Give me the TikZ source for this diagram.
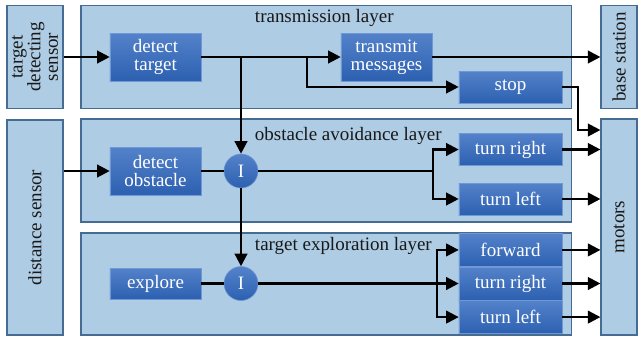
\documentclass[tikz,border=0pt]{standalone}
\usepackage{fontspec}
\setmainfont{Liberation Serif}
\usepackage{tikz}
\usetikzlibrary{arrows.meta,calc,positioning}
\definecolor{lyfill}{RGB}{174,204,227}
\definecolor{lydraw}{RGB}{70,108,148}
\definecolor{bxtop}{RGB}{84,130,202}
\definecolor{bxbot}{RGB}{44,96,176}
\definecolor{bxdraw}{RGB}{112,152,212}
\definecolor{lytext}{RGB}{25,25,25}

\begin{document}
\begin{tikzpicture}[
  x=0.025cm, y=-0.025cm,
  every node/.style={font=\fontsize{13.5}{12.5}\selectfont, text=lytext},
  layer/.style={draw=lydraw, fill=lyfill, line width=0.8pt, inner sep=0pt,
    minimum width=12.25cm, minimum height=2.575cm},
  side/.style={layer, rotate=90, align=center, minimum height=1.4cm},
  outbox/.style={layer, rotate=90, minimum height=0.9cm},
  behave/.style={draw=bxdraw, top color=bxtop, bottom color=bxbot, text=white,
    inner sep=0pt, align=center, minimum width=2.575cm, minimum height=0.8cm},
  sense/.style={behave, minimum width=2.275cm, minimum height=1.2cm},
  inh/.style={circle, draw=bxdraw, top color=bxtop, bottom color=bxbot,
    text=white, inner sep=0pt, minimum size=0.85cm},
  arr/.style={-{Triangle[length=9pt,width=9pt]}, line width=1.6pt},
  wire/.style={line width=1.6pt}
]
  \useasboundingbox (0,0) rectangle (642,338);

  \node[side, minimum width=2.575cm] (tsensor) at (35,57) {target\\detecting\\sensor};
  \node[side, minimum width=5.375cm] (dsensor) at (35,227.5) {distance sensor};
  \node[layer] (translayer) at (326,57) {};
  \node[layer] (obslayer) at (326,170.5) {};
  \node[layer, minimum height=2.55cm] (explayer) at (326,284) {};
  \node[outbox, minimum width=2.575cm] (base) at (619,57) {base station};
  \node[outbox, minimum width=5.4cm] (motors) at (619,227) {motors};

  \node[anchor=west] (translab) at (250,18) {transmission layer};
  \node[anchor=west] (obslab) at (250,136) {obstacle avoidance layer};
  \node[anchor=west] (explab) at (250,246) {target exploration layer};

  \node[sense] (dtarget) at (155.5,57) {detect\\target};
  \node[sense] (transmit) at (386.5,57) {transmit\\messages};
  \node[behave] (stop) at (510.5,87) {stop};

  \node[sense] (dobst) at (155.5,171) {detect\\obstacle};
  \node[inh] (inh1) at (241,171) {I};
  \node[behave] (oright) at (510.5,149.5) {turn right};
  \node[behave] (oleft) at (510.5,199) {turn left};

  \node[sense, minimum height=0.775cm] (explore) at (155.5,283.5) {explore};
  \node[inh] (inh2) at (241,283.5) {I};
  \node[behave, minimum height=0.825cm] (eright) at (510.5,283.5) {turn right};
  \node[behave, minimum height=0.825cm, above=0pt of eright] (forward) {forward};
  \node[behave, minimum height=0.825cm, below=0pt of eright] (eleft) {turn left};

  \coordinate (j1) at (241,57);
  \coordinate (j2) at (307,57);
  \coordinate (b1) at (433,171);
  \coordinate (b2) at (437,283.5);
  \coordinate (sbend) at (578,130);

  \draw[arr] (tsensor.south |- dtarget) -- (dtarget);
  \draw[arr] (dtarget) -- (transmit);
  \draw[arr] (transmit) -- (base.north |- transmit);
  \draw[arr] (j2) |- (stop);
  \draw[arr] (stop) -| (sbend) -- (sbend -| motors.north);
  \draw[arr] (j1) -- (inh1);
  \draw[arr] (inh1) -- (inh2);

  \draw[arr] (dsensor.south |- dobst) -- (dobst);
  \draw[wire] (dobst) -- (inh1);
  \draw[wire] (inh1) -- (b1);
  \draw[arr] (b1) |- (oright);
  \draw[arr] (b1) |- (oleft);
  \draw[arr] (oright) -- (motors.north |- oright);
  \draw[arr] (oleft) -- (motors.north |- oleft);

  \draw[wire] (explore) -- (inh2);
  \draw[wire] (inh2) -- (b2);
  \draw[arr] (b2) |- (forward);
  \draw[arr] (b2) -- (eright);
  \draw[arr] (b2) |- (eleft);
  \draw[arr] (forward) -- (motors.north |- forward);
  \draw[arr] (eright) -- (motors.north |- eright);
  \draw[arr] (eleft) -- (motors.north |- eleft);
\end{tikzpicture}
\end{document}
